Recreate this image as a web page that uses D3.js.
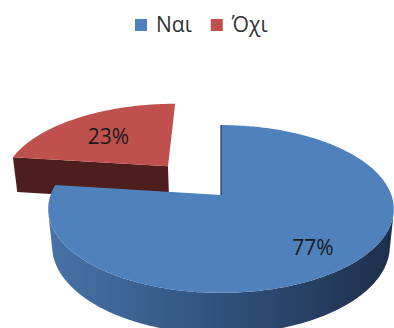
<!DOCTYPE html>
<html>
<head>
<meta charset="utf-8">
<script src="https://cdn.jsdelivr.net/npm/d3@7"></script>
<style>
  body { margin: 0; background: #fff; }
  svg { display: block; font-family: "Open Sans", "DejaVu Sans", sans-serif; }
</style>
</head>
<body>
<svg id="chart" width="394" height="328"></svg>
<script>
// data
const categories = ["Ναι", "Όχι"];
const values = [77, 23];
const labels = ["77%", "23%"];
const topColors = ["#4f81bd", "#c0504d"];
const exploded = [false, true];

const svg = d3.select('#chart');
const width = 394, height = 328;

// 3d view settings (perspective pie)
const cx = 221, cy = 195;
const focal = 898, dist = 5.27;
const tilt = 28.6 * Math.PI / 180;
const sn = Math.sin(tilt), cs = Math.cos(tilt);
const thick = 0.25;
const explode = 0.5;
const cam = [0, dist * sn, -dist * cs];

function proj(x, y, z) {
    let yc = y * cs + z * sn;
    let d = z * cs - y * sn;
    return [cx + focal * x / (dist + d), cy - focal * yc / (dist + d)];
}

const defs = svg.append('defs');
const grad = defs.append('linearGradient')
    .attr('id', 'blueSide')
    .attr('gradientUnits', 'userSpaceOnUse')
    .attr('x1', 48).attr('x2', 394).attr('y1', 0).attr('y2', 0);
grad.append('stop').attr('offset', '0%').attr('stop-color', '#4873a8');
grad.append('stop').attr('offset', '50%').attr('stop-color', '#30517c');
grad.append('stop').attr('offset', '100%').attr('stop-color', '#1d2f4a');

const sideFill = ['url(#blueSide)', '#4f1f1e'];
const edgeFill = ['#1f3350', '#4d1e1d'];

const arcs = d3.pie().sort(null).value(d => d)(values);
const line = d3.line();

// draw the back slice (red) first then the blue one
const order = [1, 0];

order.forEach(i => {
    const a = arcs[i];
    const mid = (a.startAngle + a.endAngle) / 2;
    const ox = exploded[i] ? explode * Math.sin(mid) : 0;
    const oz = exploded[i] ? explode * Math.cos(mid) : 0;
    const g = svg.append('g');

    const steps = Math.ceil((a.endAngle - a.startAngle) / (2 * Math.PI) * 360);
    const angs = d3.range(steps + 1).map(k => a.startAngle + (a.endAngle - a.startAngle) * k / steps);

    // radial faces (facing the viewer)
    [[a.startAngle, -1], [a.endAngle, 1]].forEach(([ang, sgn]) => {
        let nz = -sgn * Math.sin(ang);
        if (-nz * cs <= 0.01) return;
        let px = ox + Math.sin(ang), pz = oz + Math.cos(ang);
        let pts = [proj(ox, 0, oz), proj(px, 0, pz), proj(px, -thick, pz), proj(ox, -thick, oz)];
        g.append('path').attr('d', line(pts) + 'Z').attr('fill', edgeFill[i]);
    });

    // outer curved side, only the parts facing the viewer
    let runs = [], cur = null;
    for (let k = 0; k < steps; k++) {
        let t = (angs[k] + angs[k + 1]) / 2;
        let nx = Math.sin(t), nz = Math.cos(t);
        let dot = (cam[0] - ox - nx) * nx + (cam[2] - oz - nz) * nz;
        if (dot > 0) {
            if (!cur) { cur = [angs[k]]; runs.push(cur); }
            cur.push(angs[k + 1]);
        } else cur = null;
    }
    runs.forEach(r => {
        let topPts = r.map(t => proj(ox + Math.sin(t), 0, oz + Math.cos(t)));
        let botPts = r.map(t => proj(ox + Math.sin(t), -thick, oz + Math.cos(t))).reverse();
        g.append('path').attr('d', line(topPts.concat(botPts)) + 'Z')
            .attr('fill', sideFill[i]);
    });

    // top face
    let topFace = [proj(ox, 0, oz)].concat(angs.map(t => proj(ox + Math.sin(t), 0, oz + Math.cos(t))));
    g.append('path').attr('d', line(topFace) + 'Z').attr('fill', topColors[i]);

    if (i === 0) {
        // thin dark edge where the slice starts
        g.append('path')
            .attr('d', line([proj(ox, 0, oz), proj(ox, 0, oz + 1)]))
            .attr('stroke', '#1f3350').attr('stroke-width', 1.2);
    }

    // label
    const lr = exploded[i] ? 0.64 : 0.74;
    const lp = proj(ox + lr * Math.sin(mid), 0, oz + lr * Math.cos(mid));
    g.append('text')
        .attr('x', lp[0]).attr('y', lp[1] + 2)
        .attr('text-anchor', 'middle')
        .attr('dominant-baseline', 'central')
        .attr('font-size', 21)
        .attr('fill', '#1a1a1a')
        .text(labels[i]);
});

// legend
const legend = svg.append('g');
let lx = 135;
categories.forEach((c, i) => {
    legend.append('rect')
        .attr('x', lx).attr('y', 19)
        .attr('width', 12).attr('height', 12)
        .attr('fill', topColors[i]);
    let t = legend.append('text')
        .attr('x', lx + 21).attr('y', 32)
        .attr('font-size', 21)
        .attr('fill', '#333')
        .text(c);
    lx += 21 + t.node().getComputedTextLength() + 19;
});
</script>
</body>
</html>
